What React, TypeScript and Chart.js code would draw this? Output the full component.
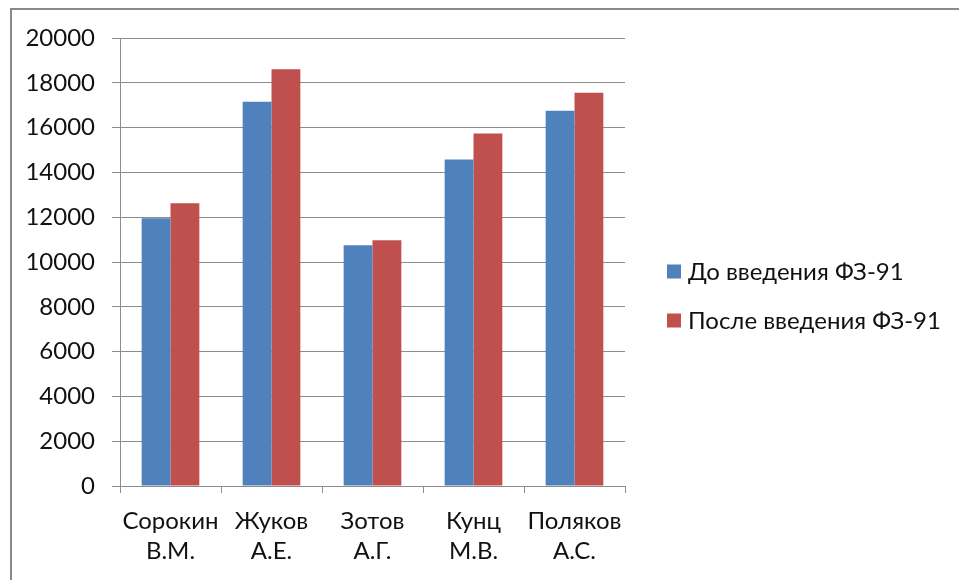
import React, { useEffect, useRef } from 'react';
import { Chart, registerables } from 'chart.js';

Chart.register(...registerables);

const categories: string[][] = [
  ['Сорокин', 'В.М.'],
  ['Жуков', 'А.Е.'],
  ['Зотов', 'А.Г.'],
  ['Кунц', 'М.В.'],
  ['Поляков', 'А.С.'],
];
const seriesNames = ['До введения ФЗ-91', 'После введения ФЗ-91'];
const beforeValues = [11950, 17150, 10750, 14580, 16750];
const afterValues = [12620, 18600, 10970, 15740, 17560];
const yMin = 0;
const yMax = 20000;
const yStep = 2000;

const seriesColors = ['#4F81BD', '#C0504D'];
const FONT = 'Lato, "Noto Sans", sans-serif';
const GRID = '#8c8c8c';
const FS = 24;

const sideLegend = {
  id: 'sideLegend',
  afterDraw(chart: any) {
    const ctx = chart.ctx;
    const area = chart.chartArea;
    const x = area.right + 42;
    const ys = [area.top + 233.5, area.top + 282.5];
    ctx.save();
    ctx.font = `${FS}px ${FONT}`;
    ctx.textBaseline = 'middle';
    ctx.textAlign = 'left';
    chart.data.datasets.forEach((ds: any, i: number) => {
      const y = ys[i];
      ctx.fillStyle = ds.backgroundColor;
      ctx.fillRect(x, y - 7, 14, 14);
      ctx.fillStyle = '#111';
      ctx.fillText(ds.label, x + 21, y + 1);
    });
    ctx.restore();
  },
};

export default function App() {
  const ref = useRef<HTMLCanvasElement | null>(null);

  useEffect(() => {
    if (!ref.current) return;
    const chart = new Chart(ref.current, {
      type: 'bar',
      data: {
        labels: categories,
        datasets: [
          {
            label: seriesNames[0],
            data: beforeValues,
            backgroundColor: seriesColors[0],
            categoryPercentage: 0.571,
            barPercentage: 1,
          },
          {
            label: seriesNames[1],
            data: afterValues,
            backgroundColor: seriesColors[1],
            categoryPercentage: 0.571,
            barPercentage: 1,
          },
        ],
      },
      options: {
        responsive: false,
        animation: false,
        devicePixelRatio: 1,
        layout: { padding: { left: 0, right: 334, top: 38, bottom: 0 } },
        plugins: {
          legend: { display: false },
          tooltip: { enabled: false },
        },
        scales: {
          x: {
            grid: {
              offset: true,
              drawOnChartArea: false,
              drawTicks: true,
              tickLength: 7,
              color: GRID,
            },
            border: { display: true, color: GRID, width: 1 },
            ticks: {
              autoSkip: false,
              maxRotation: 0,
              minRotation: 0,
              padding: 13,
              color: '#111',
              font: { family: FONT, size: FS, lineHeight: 1.27 },
            },
            afterFit(scale: any) {
              scale.height = 94;
            },
          },
          y: {
            min: yMin,
            max: yMax,
            grid: {
              drawOnChartArea: true,
              drawTicks: true,
              tickLength: 8,
              color: GRID,
            },
            border: { display: true, color: GRID, width: 1 },
            ticks: {
              stepSize: yStep,
              padding: 17,
              color: '#111',
              font: { family: FONT, size: FS },
              callback: (v: any) => String(v),
            },
            afterFit(scale: any) {
              scale.width = 120;
            },
          },
        },
      },
      plugins: [sideLegend],
    });
    return () => chart.destroy();
  }, []);

  return (
    <div
      style={{
        position: 'fixed',
        left: 0,
        top: 0,
        width: 959,
        height: 580,
        overflow: 'hidden',
        background: '#fff',
      }}
    >
      <div
        style={{
          position: 'absolute',
          left: 10,
          top: 8,
          width: 1000,
          height: 1000,
          border: '2px solid #8a8a8a',
        }}
      />
      <canvas
        ref={ref}
        width={959}
        height={580}
        style={{ position: 'absolute', left: 0, top: 0, width: 959, height: 580 }}
      />
    </div>
  );
}
